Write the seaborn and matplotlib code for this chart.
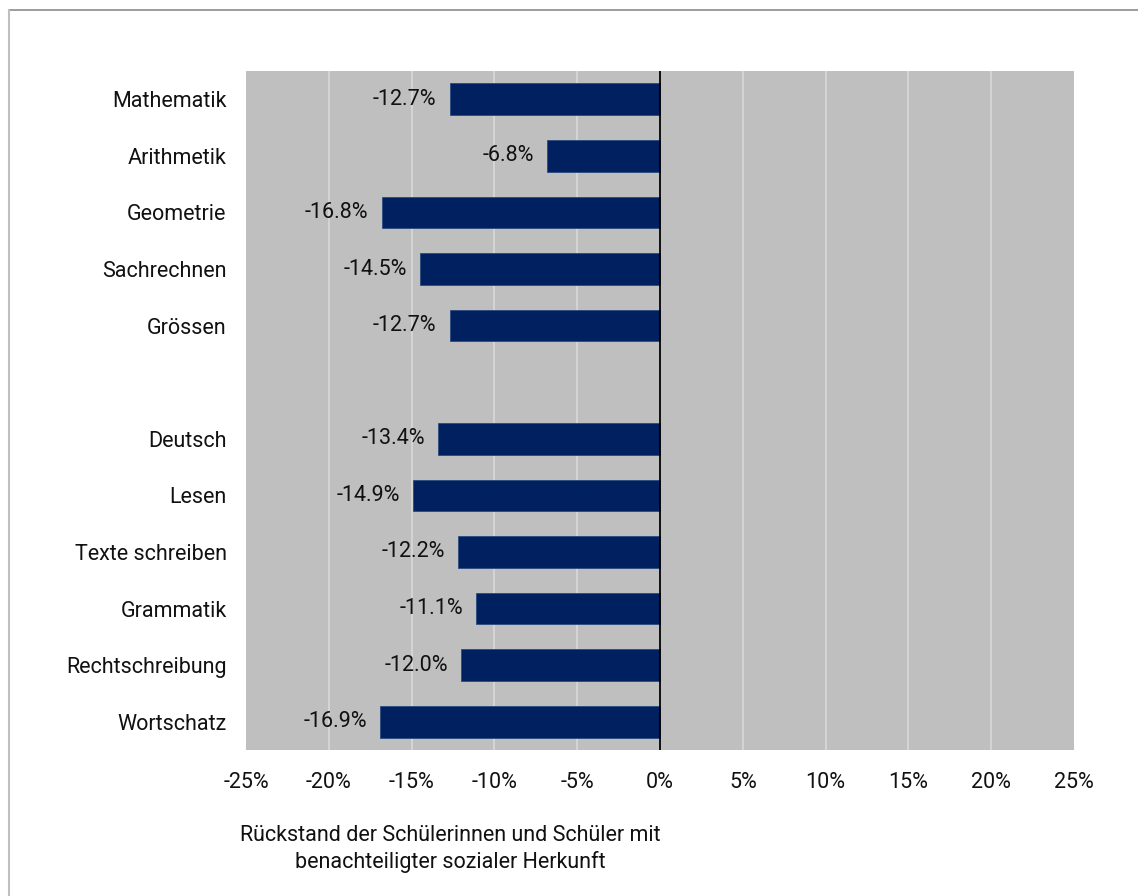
import matplotlib
matplotlib.use("Agg")
import matplotlib.pyplot as plt
from matplotlib.lines import Line2D
import seaborn as sns
import pandas as pd
import numpy as np

# Subjects (a blank slot separates mathematics from German)
categories = ["Mathematik", "Arithmetik", "Geometrie", "Sachrechnen", "Grössen", " ",
              "Deutsch", "Lesen", "Texte schreiben", "Grammatik", "Rechtschreibung", "Wortschatz"]
values = [-12.7, -6.8, -16.8, -14.5, -12.7, np.nan,
          -13.4, -14.9, -12.2, -11.1, -12.0, -16.9]
tick_values = [-25, -20, -15, -10, -5, 0, 5, 10, 15, 20, 25]
tick_labels = [f"{v}%" for v in tick_values]
axis_title = "Rückstand der Schülerinnen und Schüler mit\nbenachteiligter sozialer Herkunft"

sns.set_theme(style="white")
plt.rcParams["font.family"] = ["Roboto", "DejaVu Sans"]
FS = 15.5

df = pd.DataFrame({"subject": categories, "value": values})

fig = plt.figure(figsize=(11.38, 8.96), dpi=100)
ax = fig.add_axes([246 / 1138, 1 - 750 / 896, (1074 - 246) / 1138, (750 - 71) / 896])
ax.set_facecolor("#BFBFBF")

sns.barplot(data=df, x="value", y="subject", order=categories, orient="h",
            color="#002060", saturation=1, width=0.56, edgecolor="#2B4A80",
            linewidth=0.6, ax=ax, zorder=3)

ax.set_xlim(-25, 25)
ax.set_ylim(len(categories) - 0.5, -0.5)
ax.set_xticks(tick_values)
ax.set_xticklabels(tick_labels)
for x in tick_values[1:-1]:
    ax.axvline(x, color="#D9D9D9", linewidth=1.2, zorder=1)
ax.axvline(0, color="black", linewidth=1.3, zorder=4)

# Value labels just left of each bar end
for i, v in enumerate(values):
    if np.isnan(v):
        continue
    ax.text(v - 0.8, i, f"{v:.1f}%", ha="right", va="center", fontsize=FS, color="#111111", zorder=5)

ax.tick_params(axis="x", length=0, pad=16, labelsize=FS, labelcolor="#111111")
ax.tick_params(axis="y", length=0, pad=14, labelsize=FS, labelcolor="#111111")
ax.set_xlabel("")
ax.set_ylabel("")
for s in ax.spines.values():
    s.set_visible(False)

fig.text(450 / 1138, 1 - 849 / 896, axis_title, ha="center", va="center",
         fontsize=FS, color="#111111", linespacing=1.3)

# Frame along top and left edges
fig.add_artist(Line2D([9 / 1138, 1], [1 - 10 / 896, 1 - 10 / 896], transform=fig.transFigure,
                      color="#8C8C8C", linewidth=1.2))
fig.add_artist(Line2D([9 / 1138, 9 / 1138], [0, 1 - 10 / 896], transform=fig.transFigure,
                      color="#BFBFBF", linewidth=1.5))

fig.savefig("out.png", dpi=100, facecolor="white")
